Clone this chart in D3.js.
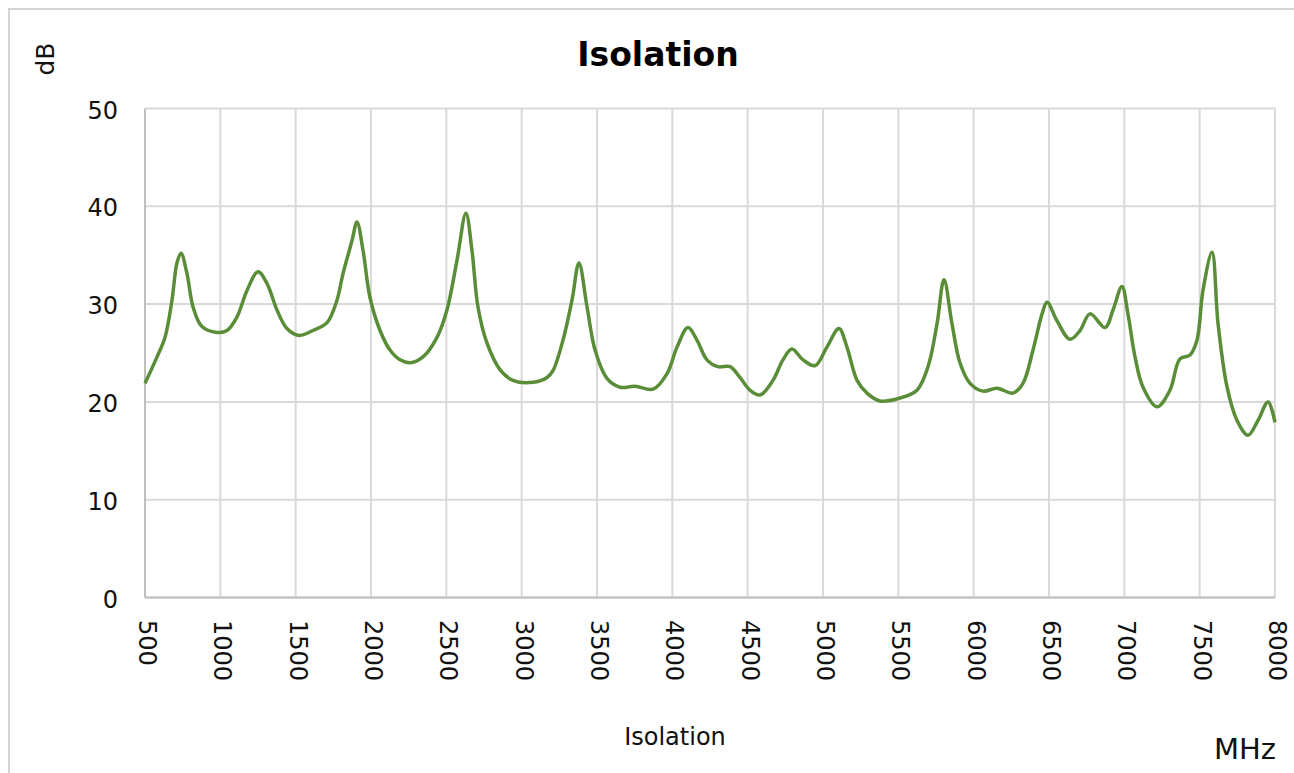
<!DOCTYPE html>
<html>
<head>
<meta charset="utf-8">
<script src="https://cdn.jsdelivr.net/npm/d3@7"></script>
<style>
  html, body { margin: 0; padding: 0; background: #fff; }
  svg { display: block; font-family: "DejaVu Sans", sans-serif; }
</style>
</head>
<body>
<svg id="chart" width="1294" height="773"></svg>
<script>
const chartTitle = "Isolation";
const xAxisTitle = "Isolation";
const yUnit = "dB";
const xUnit = "MHz";
const xTicks = [500, 1000, 1500, 2000, 2500, 3000, 3500, 4000, 4500, 5000, 5500, 6000, 6500, 7000, 7500, 8000];
const yTicks = [0, 10, 20, 30, 40, 50];

const freqMHz = [500, 580, 633, 679, 712, 739, 779, 819, 878, 978, 1044, 1111, 1177, 1250, 1310, 1376, 1442, 1522, 1615, 1708, 1774, 1814, 1874, 1907, 1947, 1993, 2060, 2126, 2193, 2259, 2345, 2438, 2504, 2571, 2630, 2670, 2710, 2770, 2856, 2942, 3075, 3168, 3208, 3274, 3334, 3380, 3434, 3487, 3566, 3652, 3752, 3872, 3965, 4031, 4104, 4164, 4230, 4303, 4383, 4449, 4515, 4582, 4668, 4734, 4794, 4867, 4947, 5026, 5106, 5159, 5226, 5292, 5378, 5511, 5624, 5697, 5757, 5803, 5856, 5909, 5976, 6062, 6155, 6261, 6327, 6394, 6454, 6487, 6553, 6639, 6706, 6772, 6872, 6925, 6984, 7024, 7071, 7124, 7217, 7303, 7369, 7436, 7482, 7522, 7582, 7622, 7682, 7748, 7821, 7887, 7954, 8000];
const isolationDb = [21.9, 24.6, 26.6, 30.4, 34.2, 35.2, 33.1, 29.7, 27.7, 27.1, 27.3, 28.7, 31.4, 33.3, 32.1, 29.4, 27.5, 26.8, 27.3, 28.1, 30.4, 33.1, 36.5, 38.4, 35.5, 30.7, 27.3, 25.3, 24.3, 24.0, 24.6, 26.6, 29.4, 34.5, 39.3, 35.5, 29.7, 26.0, 23.3, 22.2, 22.0, 22.5, 23.2, 26.3, 30.4, 34.2, 29.7, 25.3, 22.4, 21.5, 21.6, 21.3, 22.9, 25.6, 27.6, 26.3, 24.3, 23.6, 23.6, 22.5, 21.2, 20.7, 22.2, 24.3, 25.4, 24.3, 23.7, 25.6, 27.5, 25.6, 22.2, 20.9, 20.1, 20.4, 21.2, 23.6, 28.0, 32.5, 28.0, 24.0, 21.9, 21.1, 21.4, 20.9, 21.9, 25.3, 29.0, 30.2, 28.3, 26.4, 27.3, 29.0, 27.6, 29.4, 31.8, 29.0, 24.6, 21.5, 19.5, 21.2, 24.4, 24.8, 26.3, 31.4, 35.3, 28.0, 21.5, 18.1, 16.6, 18.1, 20.0, 17.9];

const svg = d3.select("#chart");
const plot = { left: 145, right: 1275, top: 108.5, bottom: 597.5 };

const x = d3.scaleLinear().domain([500, 8000]).range([plot.left, plot.right]);
const y = d3.scaleLinear().domain([0, 50]).range([plot.bottom, plot.top]);

// outer frame
svg.append("rect")
  .attr("x", 9).attr("y", 9).attr("width", 1300).attr("height", 800)
  .attr("fill", "#fff").attr("stroke", "#d4d4d4").attr("stroke-width", 2);

// gridlines
const grid = svg.append("g");
grid.selectAll("line.v").data(xTicks).join("line")
  .attr("x1", d => x(d)).attr("x2", d => x(d))
  .attr("y1", plot.top).attr("y2", plot.bottom)
  .attr("stroke", "#d9d9d9").attr("stroke-width", 2);
grid.selectAll("line.h").data(yTicks).join("line")
  .attr("x1", plot.left).attr("x2", plot.right)
  .attr("y1", d => y(d)).attr("y2", d => y(d))
  .attr("stroke", "#d9d9d9").attr("stroke-width", 2);

// axis lines
svg.append("line").attr("x1", plot.left).attr("x2", plot.left)
  .attr("y1", plot.top).attr("y2", plot.bottom).attr("stroke", "#bfbfbf").attr("stroke-width", 2);
svg.append("line").attr("x1", plot.left).attr("x2", plot.right)
  .attr("y1", plot.bottom).attr("y2", plot.bottom).attr("stroke", "#bfbfbf").attr("stroke-width", 2);

// y tick labels
svg.append("g").selectAll("text").data(yTicks).join("text")
  .attr("x", 118).attr("y", d => y(d) + 2)
  .attr("text-anchor", "end").attr("dominant-baseline", "central")
  .attr("font-size", 24).attr("fill", "#111")
  .text(d => d);

// x tick labels (rotated 90deg)
svg.append("g").selectAll("text").data(xTicks).join("text")
  .attr("transform", d => `translate(${x(d) + 2},620) rotate(90)`)
  .attr("text-anchor", "start").attr("dominant-baseline", "central")
  .attr("font-size", 24).attr("fill", "#111")
  .text(d => d);

// line
const line = d3.line()
  .x((d, i) => x(freqMHz[i]))
  .y(d => y(d))
  .curve(d3.curveCatmullRom.alpha(0.5));
svg.append("path")
  .datum(isolationDb)
  .attr("d", line)
  .attr("fill", "none")
  .attr("stroke", "#5a8d38")
  .attr("stroke-width", 3.5)
  .attr("stroke-linejoin", "round");

// titles
svg.append("text").attr("x", 658).attr("y", 66)
  .attr("text-anchor", "middle").attr("font-size", 33).attr("font-weight", "bold")
  .attr("fill", "#000").text(chartTitle);
svg.append("text").attr("transform", "translate(54,59) rotate(-90)")
  .attr("text-anchor", "middle").attr("font-size", 25).attr("fill", "#111").text(yUnit);
svg.append("text").attr("x", 675).attr("y", 745)
  .attr("text-anchor", "middle").attr("font-size", 24).attr("fill", "#111").text(xAxisTitle);
svg.append("text").attr("x", 1276).attr("y", 759)
  .attr("text-anchor", "end").attr("font-size", 29).attr("fill", "#111").text(xUnit);
</script>
</body>
</html>
